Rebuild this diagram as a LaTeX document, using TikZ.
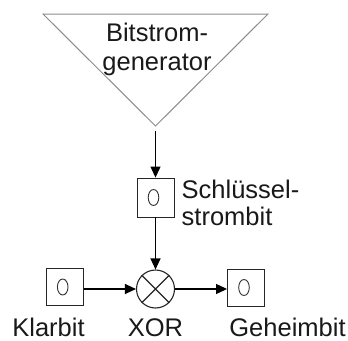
\documentclass[tikz,border=0pt]{standalone}
\usepackage{fontspec}
\setmainfont{Liberation Sans}
\usetikzlibrary{arrows.meta}
\begin{document}
\begin{tikzpicture}[x=1pt,y=-1pt,
  lbl/.style={font=\fontsize{25.5}{28.5}\selectfont, inner sep=0pt, text=black!90},
  bitbox/.style={draw=black!85, line width=0.9pt, minimum width=37pt, minimum height=37pt, inner sep=0pt,
    path picture={\draw[line width=0.9pt, black!80] ([xshift=-2pt]path picture bounding box.center) ellipse (5.3pt and 8pt);}},
  xorop/.style={draw=black!85, circle, line width=1.1pt, minimum size=38pt, inner sep=0pt},
  flow/.style={draw=black, line width=1.1pt, -{Triangle[length=11pt,width=10pt]}}
]
\useasboundingbox (0,0) rectangle (348,340);
% generator triangle
\coordinate (tl) at (43,14);
\coordinate (tr) at (268,14);
\coordinate (apex) at (155.5,126);
\draw[black!45, line width=1pt, line join=miter] (tl) -- (tr) -- (apex) -- cycle;
\node[lbl, align=center, anchor=base] (gen) at (157,70) {Bitstrom-\\generator};
% key stream bit
\node[bitbox, minimum height=39pt] (key) at (155.5,197.5) {};
\node[lbl, align=left, anchor=base west, font=\fontsize{25.5}{27}\selectfont] (keylbl) at (181.5,225) {Schlüssel-\\strombit};
% bottom row
\node[bitbox] (klar) at (64.7,287) {};
\node[xorop] (xor) at (155.5,289) {};
\draw[line width=1.1pt, black!85] (xor.north west) -- (xor.south east) (xor.north east) -- (xor.south west);
\node[bitbox] (geheim) at (246,287.5) {};
% labels
\node[lbl, anchor=base] (klarlbl) at (48.5,336) {Klarbit};
\node[lbl, anchor=base] (xorlbl) at (155.5,336) {XOR};
\node[lbl, anchor=base] (geheimlbl) at (287.5,336) {Geheimbit};
% connectors
\draw[flow, shorten <=5pt] (apex) -- (key.north);
\draw[flow] (key.south) -- (xor.north);
\draw[flow] (klar.east |- xor.center) -- (xor.west);
\draw[flow] (xor.east) -- (geheim.west |- xor.center);
\end{tikzpicture}
\end{document}
